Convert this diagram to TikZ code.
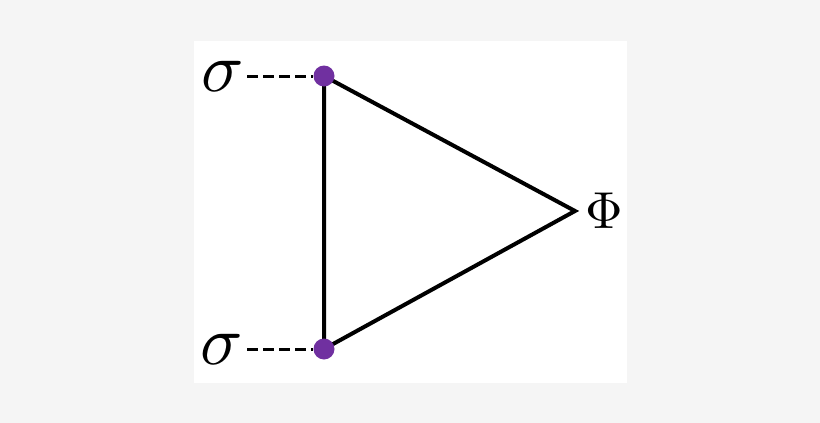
\documentclass[tikz,border=0pt]{standalone}
\usepackage{graphicx}
\begin{document}
\begin{tikzpicture}[x=1pt,y=-1pt,
  edge/.style={line width=4pt,line join=miter},
  dashedge/.style={line width=3pt,dash pattern=on 11pt off 5pt},
  dot/.style={circle,fill=dotpurple,inner sep=0pt,minimum size=21pt},
  siglabel/.style={inner sep=0pt},
  philabel/.style={inner sep=0pt}]
\definecolor{dotpurple}{HTML}{7030A0}
\definecolor{bggray}{HTML}{F5F5F5}
\fill[bggray] (0,0) rectangle (820,423);
\useasboundingbox (0,0) rectangle (820,423);
\fill[white] (194,41) rectangle (627,383);
\coordinate (A) at (324,76);
\coordinate (B) at (324,349);
\coordinate (C) at (575,211);
\draw[edge] (A) -- (B) -- (C) -- cycle;
\node[dot] (dA) at (A) {};
\node[dot] (dB) at (B) {};
\node[siglabel] (sA) at (223,76) {\scalebox{7.0}{$\sigma$}};
\node[siglabel] (sB) at (222,349) {\scalebox{7.0}{$\sigma$}};
\node[philabel] (phi) at (604,211) {\scalebox{5.2}{$\Phi$}};
\coordinate (eA) at (247,76);
\coordinate (eB) at (247,349);
\draw[dashedge] (eA) -- (dA.west);
\draw[dashedge] (eB) -- (dB.west);
\end{tikzpicture}
\end{document}
